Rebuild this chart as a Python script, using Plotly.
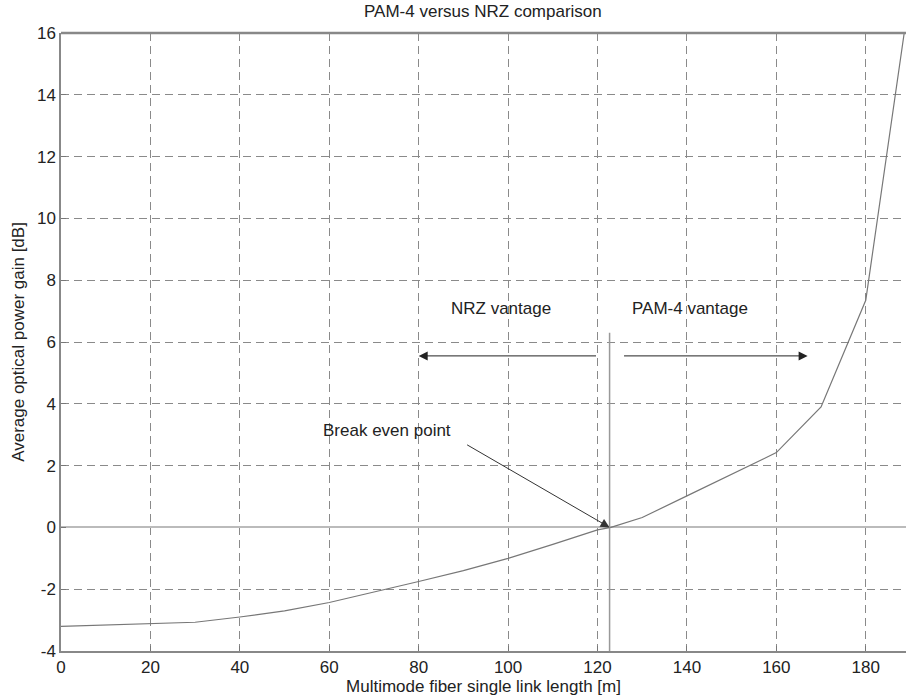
import plotly.graph_objects as go

length_m = [0, 10, 20, 30, 40, 50, 60, 70, 80, 90, 100, 110, 120, 123, 130, 140, 150, 160, 170, 180, 188.6]
gain_db = [-3.2, -3.16, -3.11, -3.07, -2.9, -2.7, -2.43, -2.1, -1.75, -1.4, -1.0, -0.55, -0.08, 0.0, 0.32, 1.02, 1.72, 2.42, 3.9, 7.35, 16.0]

x_ticks = [0, 20, 40, 60, 80, 100, 120, 140, 160, 180]
y_ticks = [-4, -2, 0, 2, 4, 6, 8, 10, 12, 14, 16]
y_tick_labels = ["-4", "-2", "0", "2", "4", "6", "8", "10", "12", "14", "16"]

break_even_x = 122.7
divider_top = 6.3

FAM = "Liberation Sans, Arial, sans-serif"

fig = go.Figure()
fig.add_trace(go.Scatter(x=length_m, y=gain_db, mode="lines",
                         line=dict(color="#777777", width=1.2), showlegend=False))
fig.add_trace(go.Scatter(x=[break_even_x, break_even_x], y=[-4, divider_top], mode="lines",
                         line=dict(color="#999999", width=1.5), showlegend=False))

font = dict(family=FAM, size=17, color="#222222")

annotations = [
    dict(x=80, y=5.55, ax=120, ay=5.55, xref="x", yref="y", axref="x", ayref="y",
         showarrow=True, arrowhead=2, arrowsize=1.8, arrowwidth=1, arrowcolor="#222222", text=""),
    dict(x=167, y=5.55, ax=125.6, ay=5.55, xref="x", yref="y", axref="x", ayref="y",
         showarrow=True, arrowhead=2, arrowsize=1.8, arrowwidth=1, arrowcolor="#222222", text=""),
    dict(x=break_even_x, y=0, ax=90.5, ay=2.7, xref="x", yref="y", axref="x", ayref="y",
         showarrow=True, arrowhead=2, arrowsize=1.8, arrowwidth=1, arrowcolor="#333333", text=""),
    dict(x=98.5, y=7.08, xref="x", yref="y", text="NRZ vantage", showarrow=False, font=font),
    dict(x=140.6, y=7.08, xref="x", yref="y", text="PAM-4 vantage", showarrow=False, font=font),
    dict(x=73, y=3.14, xref="x", yref="y", text="Break even point", showarrow=False, font=font),
]

fig.update_layout(
    width=906, height=698,
    margin=dict(l=61, r=0, t=33, b=47),
    paper_bgcolor="white", plot_bgcolor="white",
    font=font,
    title=dict(text="PAM-4 versus NRZ comparison", x=0.533, xanchor="center", y=0.992, yanchor="top",
               font=dict(family=FAM, size=17, color="#222222")),
    annotations=annotations,
    xaxis=dict(range=[0, 189], tickvals=x_ticks, ticks="inside", ticklen=5, tickcolor="#777777",
               showgrid=True, gridcolor="#8a8a8a", griddash="8px,5px", gridwidth=1,
               showline=True, linecolor="#888888", linewidth=1.5, mirror=False, zeroline=False,
               title=dict(text="Multimode fiber single link length [m]", standoff=0,
                          font=dict(family=FAM, size=17)),
               tickfont=dict(size=17)),
    yaxis=dict(range=[-4, 16], tickvals=y_ticks, ticktext=y_tick_labels, ticks="inside", ticklen=5,
               tickcolor="#777777",
               showgrid=True, gridcolor="#8a8a8a", griddash="8px,5px", gridwidth=1,
               showline=True, linecolor="#888888", linewidth=1.5, zeroline=True, zerolinecolor="#bbbbbb",
               zerolinewidth=1.5,
               title=dict(text="Average optical power gain [dB]", standoff=8,
                          font=dict(family=FAM, size=17)),
               tickfont=dict(size=17)),
)

fig.add_shape(type="line", xref="paper", yref="paper", x0=0, x1=1, y0=1, y1=1,
              line=dict(color="#888888", width=2.5))

fig.write_html("out.html")
